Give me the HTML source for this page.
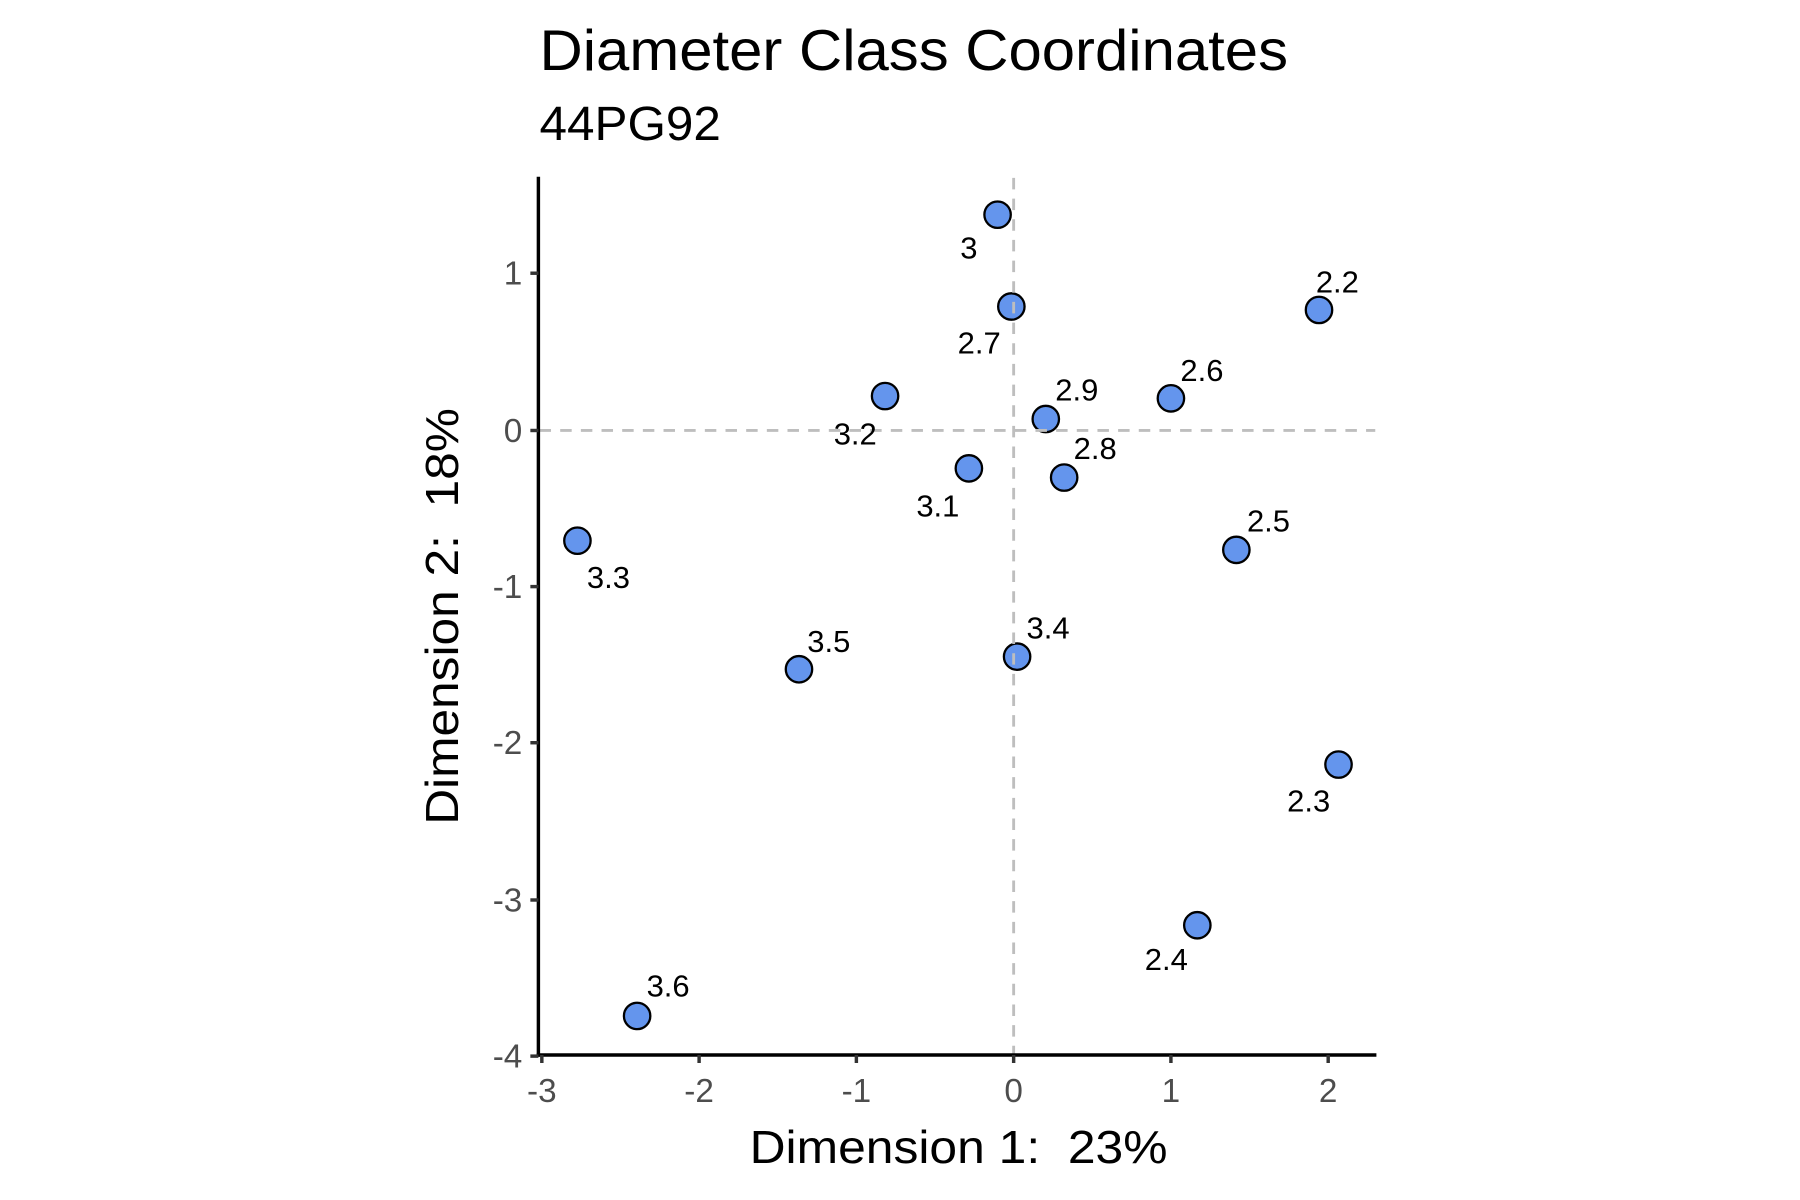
<!DOCTYPE html>
<html><head><meta charset="utf-8"><style>html,body{margin:0;padding:0;background:#fff}svg{display:block}</style></head>
<body>
<svg width="1800" height="1200" viewBox="0 0 1568 1045.33" xmlns="http://www.w3.org/2000/svg" font-family="Liberation Sans, Arial, sans-serif">
<rect width="1568" height="1045.33" fill="#fff"/>
<text x="470" y="61" font-size="50" fill="#000" textLength="652" lengthAdjust="spacingAndGlyphs">Diameter Class Coordinates</text>
<text x="470" y="122" font-size="42" fill="#000" textLength="158" lengthAdjust="spacingAndGlyphs">44PG92</text>
<g fill="#6495ED" stroke="#000" stroke-width="2">
<circle cx="869" cy="187" r="11.5"/>
<circle cx="881" cy="267" r="11.5"/>
<circle cx="1149" cy="270" r="11.5"/>
<circle cx="771" cy="345" r="11.5"/>
<circle cx="911" cy="365" r="11.5"/>
<circle cx="1020" cy="347" r="11.5"/>
<circle cx="844" cy="408" r="11.5"/>
<circle cx="927" cy="416" r="11.5"/>
<circle cx="503" cy="471" r="11.5"/>
<circle cx="1077" cy="479" r="11.5"/>
<circle cx="696" cy="583" r="11.5"/>
<circle cx="886" cy="572" r="11.5"/>
<circle cx="1166" cy="666" r="11.5"/>
<circle cx="1043" cy="806" r="11.5"/>
<circle cx="555" cy="885" r="11.5"/>
</g>
<g stroke="#bebebe" stroke-width="2.5" stroke-dasharray="10,8">
<line x1="470" y1="375" x2="1198" y2="375"/>
<line x1="883" y1="155" x2="883" y2="919"/>
</g>
<g font-size="27" fill="#000" text-anchor="middle">
<text x="844" y="225">3</text>
<text x="853" y="308">2.7</text>
<text x="1165" y="255">2.2</text>
<text x="745" y="387">3.2</text>
<text x="938" y="349">2.9</text>
<text x="1047" y="332">2.6</text>
<text x="817" y="450">3.1</text>
<text x="954" y="400">2.8</text>
<text x="530" y="512">3.3</text>
<text x="1105" y="463">2.5</text>
<text x="722" y="568">3.5</text>
<text x="913" y="556">3.4</text>
<text x="1140" y="707">2.3</text>
<text x="1016" y="845">2.4</text>
<text x="582" y="868">3.6</text>
</g>
<g stroke="#000" stroke-width="3" fill="none">
<line x1="469" y1="154" x2="469" y2="920.5"/>
<line x1="467.5" y1="919" x2="1199" y2="919"/>
</g>
<g stroke="#333" stroke-width="3">
<line x1="462" y1="238" x2="469" y2="238"/>
<line x1="462" y1="375" x2="469" y2="375"/>
<line x1="462" y1="511" x2="469" y2="511"/>
<line x1="462" y1="647" x2="469" y2="647"/>
<line x1="462" y1="784" x2="469" y2="784"/>
<line x1="462" y1="920" x2="469" y2="920"/>
<line x1="472" y1="919" x2="472" y2="926"/>
<line x1="609" y1="919" x2="609" y2="926"/>
<line x1="746" y1="919" x2="746" y2="926"/>
<line x1="883" y1="919" x2="883" y2="926"/>
<line x1="1020" y1="919" x2="1020" y2="926"/>
<line x1="1157" y1="919" x2="1157" y2="926"/>
</g>
<g font-size="29" fill="#4d4d4d" text-anchor="end">
<text x="455" y="248">1</text>
<text x="455" y="385">0</text>
<text x="455" y="521">-1</text>
<text x="455" y="657">-2</text>
<text x="455" y="794">-3</text>
<text x="455" y="930">-4</text>
</g>
<g font-size="29" fill="#4d4d4d" text-anchor="middle">
<text x="472" y="960">-3</text>
<text x="609" y="960">-2</text>
<text x="746" y="960">-1</text>
<text x="883" y="960">0</text>
<text x="1020" y="960">1</text>
<text x="1157" y="960">2</text>
</g>
<text x="835" y="1013" font-size="40" text-anchor="middle" fill="#000" textLength="364" lengthAdjust="spacingAndGlyphs">Dimension 1:&#160; 23%</text>
<text transform="translate(399,537) rotate(-90)" font-size="40" text-anchor="middle" fill="#000" textLength="363" lengthAdjust="spacingAndGlyphs">Dimension 2:&#160; 18%</text>
</svg>
</body></html>
